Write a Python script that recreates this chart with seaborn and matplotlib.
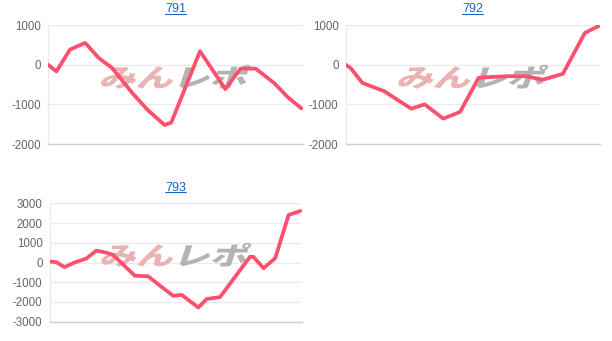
import matplotlib
matplotlib.use("Agg")
import matplotlib.pyplot as plt
import seaborn as sns
import pandas as pd
from matplotlib.lines import Line2D
from matplotlib.textpath import TextPath
from matplotlib.patches import PathPatch
from matplotlib.font_manager import FontProperties
from matplotlib.transforms import Affine2D, IdentityTransform

# ---- data (vertices; x = progress step 0..150) ----
titles = ["791", "792", "793"]

x_791 = [0, 5, 13, 22, 30, 38, 50, 59, 69, 73, 90, 105, 114, 123, 134, 142, 150]
y_791 = [0, -170, 380, 550, 170, -85, -720, -1140, -1520, -1460, 340, -615, -100, -100, -465, -820, -1100]

x_792 = [0, 3, 10, 23, 39, 47, 58, 68, 79, 87, 97, 107, 117, 129, 142, 150]
y_792 = [0, -85, -460, -670, -1110, -1000, -1360, -1190, -330, -310, -290, -290, -380, -230, 800, 970]

x_793 = [0, 4, 9, 15, 22, 28, 34, 38, 51, 59, 68, 74, 79, 89, 94, 102, 120, 122, 128, 135, 143, 150]
y_793 = [50, 20, -235, 0, 200, 600, 500, 390, -670, -700, -1300, -1690, -1640, -2280, -1850, -1750, 300, 280, -290, 220, 2410, 2610]

yticks_12 = [-2000, -1000, 0, 1000]
yticks_3 = [-3000, -2000, -1000, 0, 1000, 2000, 3000]

sns.set_theme(style="white")
plt.rcParams['font.family'] = ['Liberation Sans', 'Noto Sans CJK JP', 'DejaVu Sans']

W, H = 612, 341
fig = plt.figure(figsize=(W / 100, H / 100), dpi=100)

def box(l, t, r, b):
    return [l / W, 1 - b / H, (r - l) / W, (b - t) / H]

axes = [
    fig.add_axes(box(48, 25, 303, 144)),
    fig.add_axes(box(345.5, 25, 600, 144)),
    fig.add_axes(box(49.5, 203.3, 302, 321.7)),
]
series = [(x_791, y_791, yticks_12), (x_792, y_792, yticks_12), (x_793, y_793, yticks_3)]

wm_font = FontProperties(family="Noto Sans CJK JP", weight="black")

def watermark(ax, width_px=145, height_px=24, yfrac=0.565):
    fig.canvas.draw()
    bb = ax.get_window_extent()
    cx = (bb.x0 + bb.x1) / 2
    cy = bb.y0 + yfrac * bb.height
    p1 = TextPath((0, 0), "みん", size=1, prop=wm_font)
    e1 = p1.get_extents()
    p2 = TextPath((e1.x1 + 0.03, 0), "レポ", size=1, prop=wm_font)
    e2 = p2.get_extents()
    x0, x1 = e1.x0, e2.x1
    y0, y1 = min(e1.y0, e2.y0), max(e1.y1, e2.y1)
    sx = width_px / (x1 - x0)
    sy = height_px / (y1 - y0)
    tr = (Affine2D().translate(-(x0 + x1) / 2, -(y0 + y1) / 2)
          .scale(sx, sy).skew_deg(18, 0).translate(cx, cy) + IdentityTransform())
    for p, c in ((p1, "#eab3b3"), (p2, "#b3b3b3")):
        patch = PathPatch(p, transform=tr, facecolor=c, edgecolor="none",
                          zorder=1, clip_on=False)
        ax.add_artist(patch)

line_color = "#ff4f6e"
for ax, title, (xs, ys, yt) in zip(axes, titles, series):
    df = pd.DataFrame({"x": xs, "y": ys})
    sns.lineplot(data=df, x="x", y="y", ax=ax, color=line_color, linewidth=2.7,
                 zorder=3, solid_joinstyle="round", solid_capstyle="round")
    ax.set_xlim(0, 151)
    ax.set_ylim(yt[0], yt[-1])
    ax.set_yticks(yt)
    ax.set_yticklabels([str(v) for v in yt])
    ax.set_xticks([])
    ax.set_xlabel("")
    ax.set_ylabel("")
    ax.grid(axis="y", color="#ebebeb", linewidth=1)
    ax.set_axisbelow(True)
    for s in ["top", "right"]:
        ax.spines[s].set_visible(False)
    ax.spines["left"].set_color("#ebebeb")
    ax.spines["left"].set_linewidth(1)
    ax.spines["bottom"].set_color("#d0d0d0")
    ax.spines["bottom"].set_linewidth(1)
    ax.tick_params(axis="y", length=0, pad=5, labelsize=8.3, labelcolor="#666666")
    ax.set_title(title, fontsize=9, color="#1a66cc", pad=9)

for ax in axes:
    watermark(ax)

fig.canvas.draw()
renderer = fig.canvas.get_renderer()
for ax in axes:
    bb = ax.title.get_window_extent(renderer)
    y = bb.y0 + 1.5
    fig.add_artist(Line2D([bb.x0 / W, bb.x1 / W], [y / H, y / H],
                          color="#1a66cc", linewidth=0.8))

fig.savefig("out.png", dpi=100)
